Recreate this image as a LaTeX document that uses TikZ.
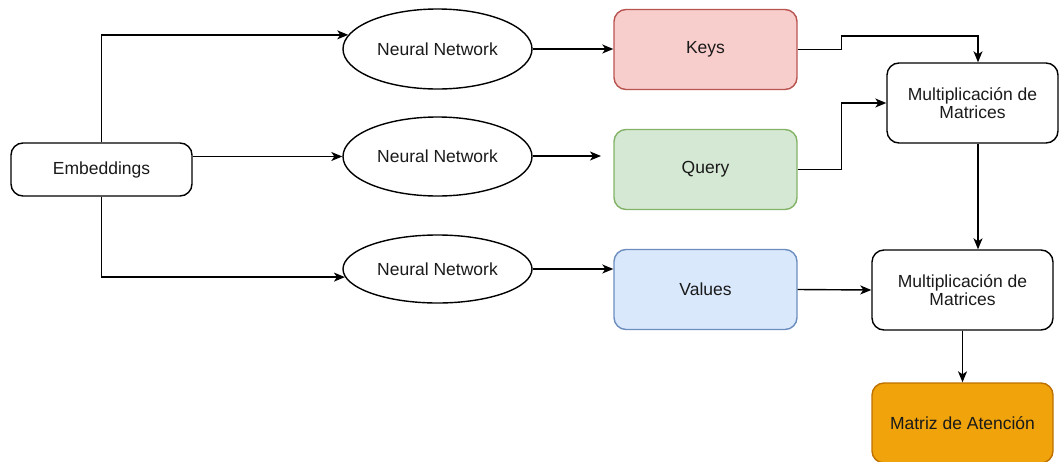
\documentclass[tikz,border=0pt]{standalone}
\usepackage{fontspec}
\setmainfont{Liberation Sans}
\usetikzlibrary{shapes.geometric,arrows.meta,calc}
\definecolor{keysfill}{HTML}{F8CECC}\definecolor{keysdraw}{HTML}{B85450}
\definecolor{qfill}{HTML}{D5E8D4}\definecolor{qdraw}{HTML}{82B366}
\definecolor{vfill}{HTML}{DAE8FC}\definecolor{vdraw}{HTML}{6C8EBF}
\definecolor{mfill}{HTML}{F0A30A}\definecolor{mdraw}{HTML}{BD7000}
\definecolor{txt}{HTML}{1A1A1A}
\tikzset{
  base/.style={line width=1.4pt, inner sep=0pt, align=center, text=txt,
    font=\fontsize{17.5}{18.5}\selectfont},
  rbox/.style={base, draw, rounded corners=12pt, minimum width=#1, minimum height=80pt},
  nnet/.style={base, draw, ellipse, minimum width=189pt},
  arr/.style={line width=1.4pt, -{Stealth[length=11pt,width=9pt,inset=3pt]}},
}
\begin{document}
\begin{tikzpicture}[x=1pt,y=-1pt]
\useasboundingbox (0,0) rectangle (1060,461);
\node[rbox=181pt, minimum height=53pt] (emb) at (101.5,169.5) {Embeddings};
\node[nnet, minimum height=80pt] (nn1) at (437.5,49) {Neural Network};
\node[nnet, minimum height=79pt] (nn2) at (437.5,156.5) {Neural Network};
\node[nnet, minimum height=68pt] (nn3) at (437.5,269) {Neural Network};
\node[rbox=183pt, fill=keysfill, draw=keysdraw] (keys) at (705.5,49.5) {Keys};
\node[rbox=183pt, fill=qfill, draw=qdraw] (query) at (705.5,169.5) {Query};
\node[rbox=183pt, fill=vfill, draw=vdraw] (values) at (705.5,289.5) {Values};
\node[rbox=171pt] (mult1) at (972.5,103) {Multiplicación de\\Matrices};
\node[rbox=181pt] (mult2) at (962.5,290) {Multiplicación de\\Matrices};
\node[rbox=181pt, fill=mfill, draw=mdraw] (matriz) at (962.5,423) {Matriz de Atención};
\coordinate (qin) at (601,156);
% connectors
\draw[arr] (emb.north) |- (nn1.171.7);
\draw[arr] (nn2.west -| emb.east) -- (nn2.west);
\draw[arr] (emb.south) |- (nn3.185);
\draw[arr] (nn1.east) -- (keys.west |- nn1.east);
\draw[arr] (nn2.east |- qin) -- (qin);
\draw[arr] (nn3.east) -- (values.west |- nn3.east);
\draw[arr] (keys.east) -- ++(44,0) -- ++(0,-13.5) -| ([xshift=5.5pt]mult1.north);
\draw[arr] (query.east) -- ++(44,0) |- (mult1.west);
\draw[arr] ([xshift=5.5pt]mult1.south) -- ([xshift=5.5pt]mult1.south |- mult2.north);
\draw[arr] (values.east) -- (mult2.west);
\draw[arr] (mult2.south) -- (matriz.north);
\end{tikzpicture}
\end{document}
